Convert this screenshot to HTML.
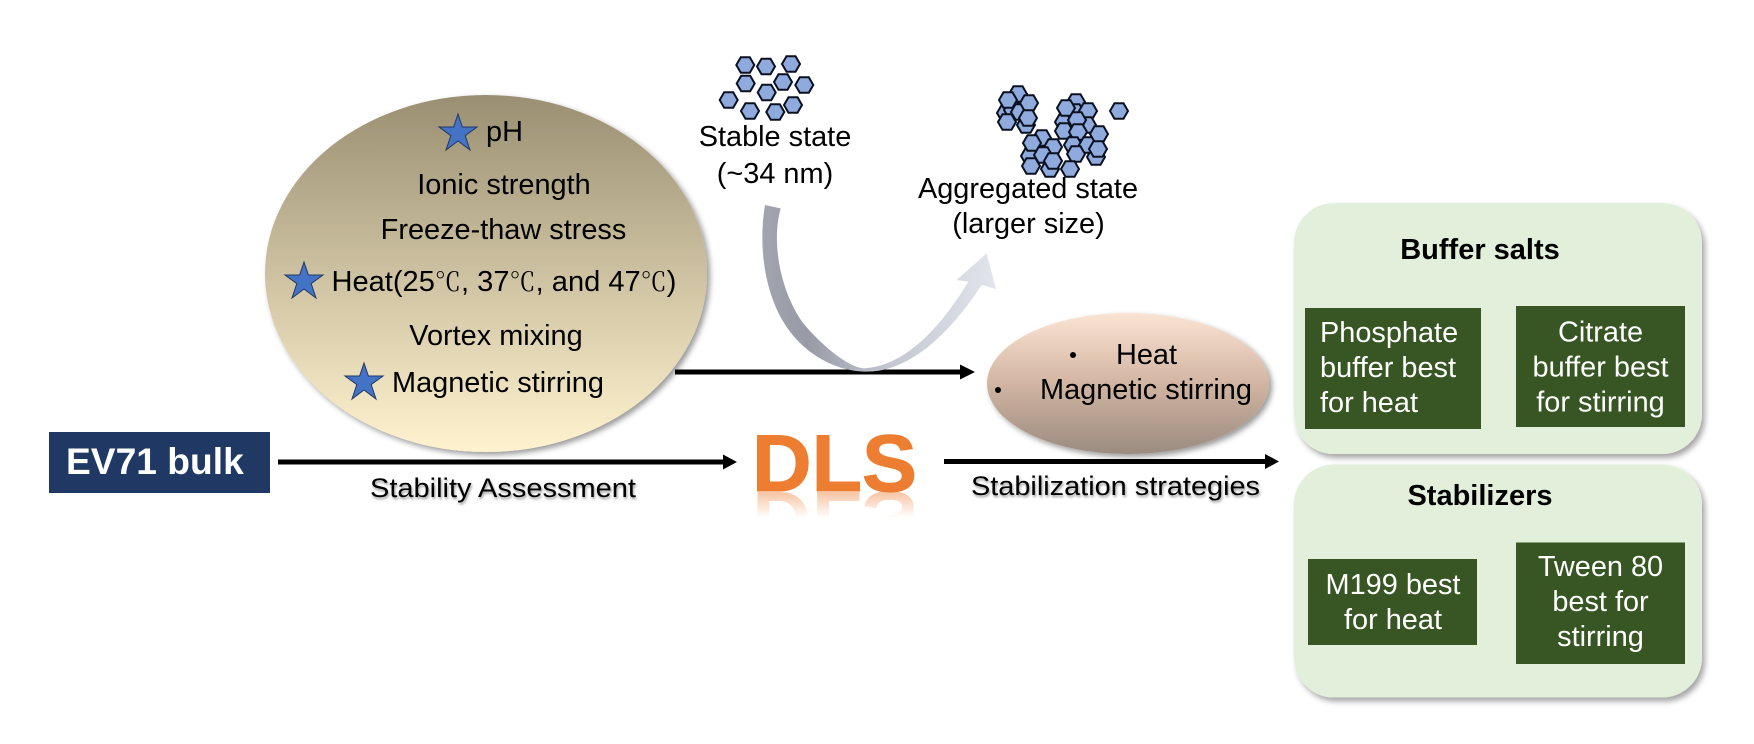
<!DOCTYPE html>
<html>
<head>
<meta charset="utf-8">
<style>
html,body{margin:0;padding:0;background:#fff;width:1754px;height:744px;overflow:hidden}
svg{display:block}
text{font-family:"Liberation Sans","Noto Sans CJK SC",sans-serif;font-size:28.9px;fill:#000}
.m{text-anchor:middle}
.w{fill:#fff}
.b{font-weight:bold}
</style>
</head>
<body>
<svg width="1754" height="744" viewBox="0 0 1754 744" xmlns="http://www.w3.org/2000/svg">
<defs>
<linearGradient id="g1" x1="0" y1="0" x2="0" y2="1"><stop offset="0" stop-color="#9a8f72"/><stop offset="1" stop-color="#fff3cf"/></linearGradient>
<linearGradient id="g2" x1="0" y1="0" x2="0" y2="1"><stop offset="0" stop-color="#fbe3d3"/><stop offset=".5" stop-color="#d2b5a2"/><stop offset="1" stop-color="#9a8b80"/></linearGradient>
<linearGradient id="g3" gradientUnits="userSpaceOnUse" x1="30" y1="0" x2="738" y2="0"><stop offset="0" stop-color="#a2a4ae"/><stop offset=".2" stop-color="#989ba6"/><stop offset=".55" stop-color="#c4c7d2"/><stop offset="1" stop-color="#e2e5ea"/></linearGradient>
<linearGradient id="g4" gradientUnits="userSpaceOnUse" x1="0" y1="492" x2="0" y2="466"><stop offset="0" stop-color="#ed7d31" stop-opacity=".45"/><stop offset="1" stop-color="#ed7d31" stop-opacity="0"/></linearGradient>
<filter id="s1" x="-10%" y="-10%" width="120%" height="120%"><feDropShadow dx="3" dy="3" stdDeviation="3" flood-color="#000" flood-opacity=".4"/></filter>
<filter id="s2" x="-10%" y="-10%" width="120%" height="120%"><feDropShadow dx="3" dy="4" stdDeviation="3" flood-color="#000" flood-opacity=".35"/></filter>
<filter id="s3" x="-5%" y="-20%" width="110%" height="150%"><feDropShadow dx="1" dy="2" stdDeviation="1.2" flood-color="#000" flood-opacity=".4"/></filter>
<polygon id="h" points="-9,0 -4.5,-7.8 4.5,-7.8 9,0 4.5,7.8 -4.5,7.8" fill="#8faadc" stroke="#0b1020" stroke-width="2"/>
<polygon id="st" points="0,-19 4.4,-6 19,-6 7.2,2.6 12,17 0,8 -12,17 -7.2,2.6 -19,-6 -4.4,-6" fill="#4472c4" stroke="#1f3864" stroke-width="1"/>
</defs>

<!-- main ellipse -->
<ellipse cx="486" cy="273.5" rx="221" ry="178.5" fill="url(#g1)" filter="url(#s1)"/>
<use href="#st" x="458" y="133"/>
<use href="#st" x="304" y="281"/>
<use href="#st" x="364" y="382"/>
<text x="486" y="141">pH</text>
<text x="504" y="194" class="m">Ionic strength</text>
<text x="503.5" y="239" class="m">Freeze-thaw stress</text>
<text x="331.5" y="291" textLength="345" lengthAdjust="spacingAndGlyphs">Heat(25<tspan style="font-family:'Noto Serif CJK SC',serif;font-size:26px">℃</tspan>, 37<tspan style="font-family:'Noto Serif CJK SC',serif;font-size:26px">℃</tspan>, and 47<tspan style="font-family:'Noto Serif CJK SC',serif;font-size:26px">℃</tspan>)</text>
<text x="496" y="345" class="m">Vortex mixing</text>
<text x="392" y="392">Magnetic stirring</text>

<!-- EV71 -->
<rect x="49" y="432" width="221" height="61" fill="#1f3864"/>
<text x="66" y="474" class="w b" style="font-size:37.2px">EV71 bulk</text>

<!-- arrows -->
<rect x="278" y="459.5" width="446" height="5" fill="#000"/>
<polygon points="723,454.5 737,462 723,469.5" fill="#000"/>
<rect x="675" y="369.5" width="286" height="5" fill="#000"/>
<polygon points="960,364.5 975,372 960,379.5" fill="#000"/>
<rect x="944" y="459" width="322" height="5" fill="#000"/>
<polygon points="1265,454 1279,461.5 1265,469" fill="#000"/>

<!-- curved arrow -->
<g transform="translate(750,200) scale(.33333)">
<path d="M45,15 C25,130 40,290 120,395 C165,455 250,515 350,515 C480,515 600,400 695,255 L738,267 L710,160 L620,240 L655,245 C580,370 470,500 340,505 C290,500 210,430 160,370 C100,290 60,140 92,25 Z" fill="url(#g3)"/>
</g>

<text x="370" y="497" filter="url(#s3)" textLength="266" lengthAdjust="spacingAndGlyphs" style="font-size:27px">Stability Assessment</text>
<text x="971" y="495" filter="url(#s3)" textLength="289" lengthAdjust="spacingAndGlyphs" style="font-size:27px">Stabilization strategies</text>

<!-- DLS -->
<text x="752" y="491" class="b" textLength="165" lengthAdjust="spacingAndGlyphs" style="font-size:81px;fill:#ed7d31;stroke:#ed7d31;stroke-width:1px">DLS</text>
<text transform="translate(0,984) scale(1,-1)" x="752" y="492" class="b" textLength="165" lengthAdjust="spacingAndGlyphs" style="font-size:81px;fill:url(#g4)">DLS</text>

<!-- stable hexagons -->
<use href="#h" x="745.3" y="65"/><use href="#h" x="766" y="66.5"/><use href="#h" x="791" y="64"/>
<use href="#h" x="745.7" y="83.5"/><use href="#h" x="766.7" y="92.5"/><use href="#h" x="783" y="82"/>
<use href="#h" x="804.3" y="85"/><use href="#h" x="728.7" y="100"/><use href="#h" x="750" y="111"/>
<use href="#h" x="775.3" y="112"/><use href="#h" x="793" y="105"/>
<text x="775" y="146" class="m">Stable state</text>
<text x="775" y="183" class="m">(~34 nm)</text>

<!-- aggregated hexagons -->
<g transform="translate(980,70)">
<use href="#h" x="26" y="43"/><use href="#h" x="46" y="55"/><use href="#h" x="38" y="24"/>
<use href="#h" x="33" y="40"/><use href="#h" x="40" y="42"/>
<use href="#h" x="28" y="30"/><use href="#h" x="49" y="33"/><use href="#h" x="27" y="52"/><use href="#h" x="48" y="48"/>

<use href="#h" x="84" y="52"/><use href="#h" x="96" y="32"/><use href="#h" x="95" y="42"/>
<use href="#h" x="108" y="41"/><use href="#h" x="86" y="38"/><use href="#h" x="107" y="55"/>
<use href="#h" x="84" y="61"/><use href="#h" x="97" y="50"/><use href="#h" x="98" y="62"/>
<use href="#h" x="93" y="75"/><use href="#h" x="116" y="87"/><use href="#h" x="108" y="75"/>
<use href="#h" x="119" y="64"/><use href="#h" x="118" y="79"/><use href="#h" x="96" y="84"/>

<use href="#h" x="62" y="68"/><use href="#h" x="50" y="86"/><use href="#h" x="70" y="99"/>
<use href="#h" x="52" y="73"/><use href="#h" x="73" y="77"/><use href="#h" x="63" y="85"/>
<use href="#h" x="73" y="91"/><use href="#h" x="51" y="96"/>
<use href="#h" x="139" y="41"/><use href="#h" x="90" y="99"/>
</g>
<text x="1028" y="198" class="m">Aggregated state</text>
<text x="1028.5" y="233" class="m">(larger size)</text>

<!-- heat ellipse -->
<ellipse cx="1128" cy="383.5" rx="141" ry="70.5" fill="url(#g2)" filter="url(#s1)"/>
<circle cx="1073" cy="355" r="3" fill="#000"/>
<circle cx="998" cy="390" r="3" fill="#000"/>
<text x="1116" y="364">Heat</text>
<text x="1040" y="399">Magnetic stirring</text>

<!-- panels -->
<rect x="1294" y="203" width="408" height="251" rx="40" fill="#e2efda" filter="url(#s2)"/>
<rect x="1294" y="464.5" width="408" height="233" rx="40" fill="#e2efda" filter="url(#s2)"/>
<text x="1480" y="259" class="m b" style="font-size:29px">Buffer salts</text>
<text x="1480" y="505" class="m b" style="font-size:29px">Stabilizers</text>

<rect x="1305" y="308" width="176" height="121" fill="#375623"/>
<text x="1320" y="342" class="w">Phosphate</text>
<text x="1320" y="377" class="w">buffer best</text>
<text x="1320" y="412" class="w">for heat</text>

<rect x="1516" y="306" width="169" height="121" fill="#375623"/>
<text x="1600.5" y="341.5" class="m w">Citrate</text>
<text x="1600.5" y="376.5" class="m w">buffer best</text>
<text x="1600.5" y="411.5" class="m w">for stirring</text>

<rect x="1308" y="559" width="169" height="86" fill="#375623"/>
<text x="1393" y="594" class="m w">M199 best</text>
<text x="1393" y="629" class="m w">for heat</text>

<rect x="1516" y="542.5" width="169" height="121.5" fill="#375623"/>
<text x="1600.5" y="576" class="m w">Tween 80</text>
<text x="1600.5" y="611" class="m w">best for</text>
<text x="1600.5" y="646" class="m w">stirring</text>
</svg>
</body>
</html>
